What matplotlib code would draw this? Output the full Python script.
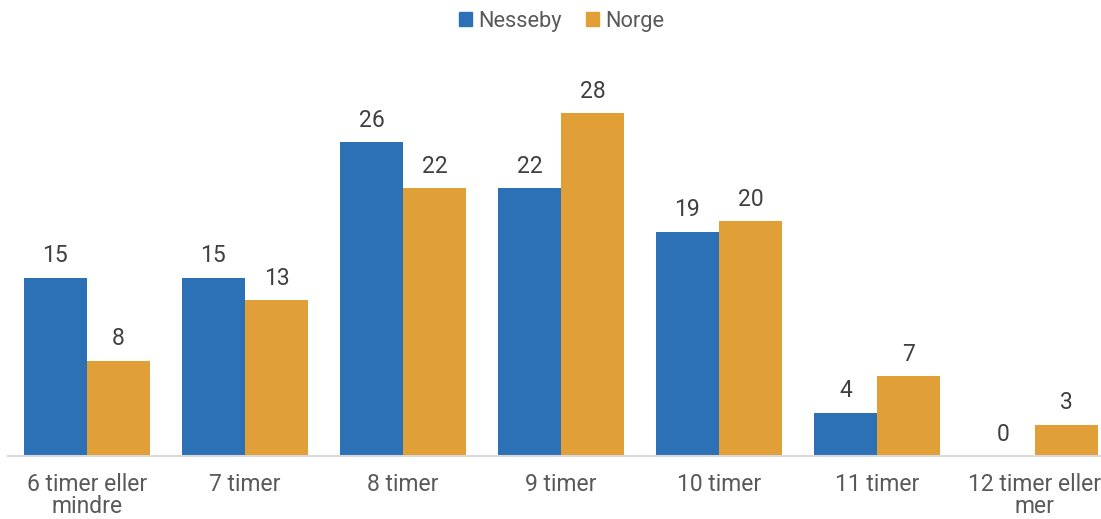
import matplotlib
matplotlib.use("Agg")
import matplotlib.pyplot as plt
import numpy as np
from matplotlib.patches import Patch

categories = ["6 timer eller\nmindre", "7 timer", "8 timer", "9 timer", "10 timer", "11 timer", "12 timer eller\nmer"]
nesseby = [14.8, 14.8, 26.0, 22.2, 18.6, 3.6, 0.0]
norge = [7.9, 12.9, 22.2, 28.4, 19.5, 6.6, 2.6]
series_names = ["Nesseby", "Norge"]

blue = "#2C70B5"
orange = "#E09F37"
text_col = "#595959"
val_col = "#404040"

plt.rcParams['font.family'] = ['Roboto', 'DejaVu Sans']

W, H = 1101, 519
fig = plt.figure(figsize=(W / 100, H / 100), dpi=100)
px_per_unit = 12.06
base_px = 456
ax = fig.add_axes([0, (H - base_px) / H, 1, base_px / H])

x = np.arange(len(categories))
bw = 0.4
b1 = ax.bar(x - bw / 2, nesseby, bw, color=blue, edgecolor="none")
b2 = ax.bar(x + bw / 2, norge, bw, color=orange, edgecolor="none")

for bars, vals in ((b1, nesseby), (b2, norge)):
    for rect, v in zip(bars, vals):
        ax.annotate(f"{round(v)}", (rect.get_x() + rect.get_width() / 2, v),
                    xytext=(0, 11), textcoords="offset points", ha="center", va="baseline",
                    fontsize=16.5, color=val_col)

left_px, center0_px, spacing_px = 8, 87, 158
xmin = -center0_px / spacing_px
xmax = xmin + W / spacing_px
ax.set_xlim(xmin, xmax)
ax.set_ylim(0, base_px / px_per_unit)

ax.set_xticks(x)
ax.set_xticklabels(categories, fontsize=16.5, color=text_col, linespacing=0.98)
ax.tick_params(axis="x", length=0, pad=12)
ax.set_yticks([])
for s in ("top", "right", "left"):
    ax.spines[s].set_visible(False)
ax.spines["bottom"].set_color("#D9D9D9")
ax.spines["bottom"].set_linewidth(1.5)
ax.spines["bottom"].set_bounds(xmin + left_px / spacing_px, xmax)

handles = [Patch(color=blue), Patch(color=orange)]
fig.legend(handles, series_names, loc="center", bbox_to_anchor=(0.51, 1 - 21 / H),
           ncol=2, frameon=False, fontsize=15.7, labelcolor=text_col,
           handlelength=0.6, handleheight=0.6, handletextpad=0.3, columnspacing=1.1)

fig.savefig("out.png", dpi=100)
